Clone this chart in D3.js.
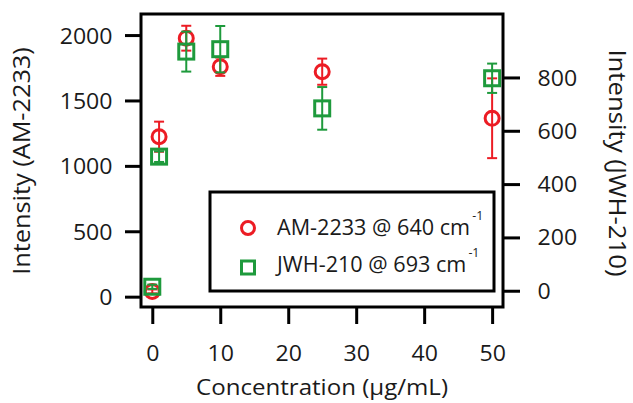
<!DOCTYPE html>
<html>
<head>
<meta charset="utf-8">
<script src="https://cdn.jsdelivr.net/npm/d3@7"></script>
<style>
  body { margin: 0; background: #fff; }
  svg { font-family: "Open Sans", sans-serif; }
</style>
</head>
<body>
<script>
// data
var concentrations = [0, 1, 5, 10, 25, 50];
var amValues  = [40, 1223, 1976, 1758, 1720, 1364];
var amErrors  = [15, 115, 95, 70, 100, 305];
var jwhValues = [15, 503, 897, 906, 684, 797];
var jwhErrors = [8, 20, 75, 87, 80, 55];

var xTicks = [0, 10, 20, 30, 40, 50];
var leftTicks = [0, 500, 1000, 1500, 2000];
var rightTicks = [0, 200, 400, 600, 800];

var amLabel = "AM-2233 @ 640 cm";
var jwhLabel = "JWH-210 @ 693 cm";

var red = "#ec1c24", green = "#1e9a3c", ink = "#1a1a1a";

// the source font runs wider than Open Sans, so text gets a small stretch
var sx = 1.1;

// set the dimensions and margins of the graph
var margin = {top: 14, right: 130, bottom: 96, left: 141},
    width = 633 - margin.left - margin.right,
    height = 403 - margin.top - margin.bottom;

var x = d3.scaleLinear().domain([-1.66, 51.6]).range([0, width]);
var yL = d3.scaleLinear().domain([-79, 2161]).range([height, 0]);
var yR = d3.scaleLinear().domain([-61, 1038]).range([height, 0]);

var svg = d3.select("body").append("svg")
    .attr("width", 633)
    .attr("height", 403)
  .append("g")
    .attr("transform", "translate(" + margin.left + "," + margin.top + ")");

function styleAxis(g) {
  g.select(".domain").remove();
  g.selectAll(".tick line").attr("stroke", "#000").attr("stroke-width", 3);
  g.selectAll(".tick text")
      .attr("fill", ink)
      .style("font-size", "21px")
      .style("font-family", "Open Sans")
      .attr("transform", "scale(" + sx + ",1)");
}

// x axis
var xAxis = svg.append("g")
    .attr("transform", "translate(0," + height + ")")
    .call(d3.axisBottom(x).tickValues(xTicks).tickSize(17).tickFormat(d3.format("d")))
    .call(styleAxis);
xAxis.selectAll(".tick text").attr("y", 54.5).attr("dy", 0);

// left axis
var lAxis = svg.append("g")
    .call(d3.axisLeft(yL).tickValues(leftTicks).tickSize(16).tickFormat(d3.format("d")))
    .call(styleAxis);
lAxis.selectAll(".tick text").attr("x", -28.5 / sx).attr("dy", "0.38em");

// right axis
var rAxis = svg.append("g")
    .attr("transform", "translate(" + width + ",0)")
    .call(d3.axisRight(yR).tickValues(rightTicks).tickSize(17).tickFormat(d3.format("d")))
    .call(styleAxis);
rAxis.selectAll(".tick text").attr("x", 34.5 / sx).attr("dy", "0.36em");

// frame
svg.append("rect")
    .attr("width", width)
    .attr("height", height)
    .attr("fill", "none")
    .attr("stroke", "#000")
    .attr("stroke-width", 3);

// axis titles
svg.append("text")
    .attr("transform", "translate(" + (322 - margin.left) + "," + (395 - margin.top) + ") scale(1.07,1)")
    .attr("text-anchor", "middle")
    .style("font-size", "22.5px")
    .attr("fill", ink)
    .text("Concentration (\u00b5g/mL)");

svg.append("text")
    .attr("transform", "translate(" + (30 - margin.left) + "," + (161 - margin.top) + ") rotate(-90) scale(1.1,1)")
    .attr("text-anchor", "middle")
    .style("font-size", "23px")
    .attr("fill", ink)
    .text("Intensity (AM-2233)");

svg.append("text")
    .attr("transform", "translate(" + (609 - margin.left) + "," + (163 - margin.top) + ") rotate(90) scale(1.12,1)")
    .attr("text-anchor", "middle")
    .style("font-size", "23px")
    .attr("fill", ink)
    .text("Intensity (JWH-210)");

// series
function drawSeries(values, errors, y, color, shape) {
  var data = concentrations.map(function(c, i) { return {c: c, v: values[i], e: errors[i]}; });
  var g = svg.append("g");
  var bars = g.selectAll(".err").data(data).enter().append("g")
      .attr("stroke", color).attr("stroke-width", 2);
  bars.append("line")
      .attr("x1", function(d) { return x(d.c); })
      .attr("x2", function(d) { return x(d.c); })
      .attr("y1", function(d) { return y(d.v - d.e); })
      .attr("y2", function(d) { return y(d.v + d.e); });
  [-1, 1].forEach(function(s) {
    bars.append("line")
        .attr("x1", function(d) { return x(d.c) - 5; })
        .attr("x2", function(d) { return x(d.c) + 5; })
        .attr("y1", function(d) { return y(d.v + s * d.e); })
        .attr("y2", function(d) { return y(d.v + s * d.e); });
  });
  if (shape === "circle") {
    g.selectAll("circle").data(data).enter().append("circle")
        .attr("cx", function(d) { return x(d.c); })
        .attr("cy", function(d) { return y(d.v); })
        .attr("r", 7)
        .attr("fill", "none")
        .attr("stroke", color)
        .attr("stroke-width", 3);
  } else {
    g.selectAll("rect").data(data).enter().append("rect")
        .attr("x", function(d) { return x(d.c) - 7.5; })
        .attr("y", function(d) { return y(d.v) - 7.5; })
        .attr("width", 15)
        .attr("height", 15)
        .attr("fill", "none")
        .attr("stroke", color)
        .attr("stroke-width", 3);
  }
}

drawSeries(amValues, amErrors, yL, red, "circle");
drawSeries(jwhValues, jwhErrors, yR, green, "square");

// legend
var legend = svg.append("g").attr("transform", "translate(" + (210 - margin.left) + "," + (192 - margin.top) + ")");
legend.append("rect")
    .attr("width", 284)
    .attr("height", 99)
    .attr("fill", "#fff")
    .attr("stroke", "#000")
    .attr("stroke-width", 3);

legend.append("circle")
    .attr("cx", 38).attr("cy", 36).attr("r", 6.5)
    .attr("fill", "none").attr("stroke", red).attr("stroke-width", 3);
legend.append("rect")
    .attr("x", 31.5).attr("y", 69).attr("width", 13).attr("height", 13)
    .attr("fill", "none").attr("stroke", green).attr("stroke-width", 3);

[amLabel, jwhLabel].forEach(function(t, i) {
  var txt = legend.append("text")
      .attr("transform", "translate(67," + (43 + i * 37) + ") scale(1.03,1)")
      .style("font-size", "21px")
      .attr("fill", ink);
  txt.append("tspan").text(t);
  txt.append("tspan").attr("dx", 2).attr("dy", -15).style("font-size", "12px").text("-1");
});
</script>
</body>
</html>
